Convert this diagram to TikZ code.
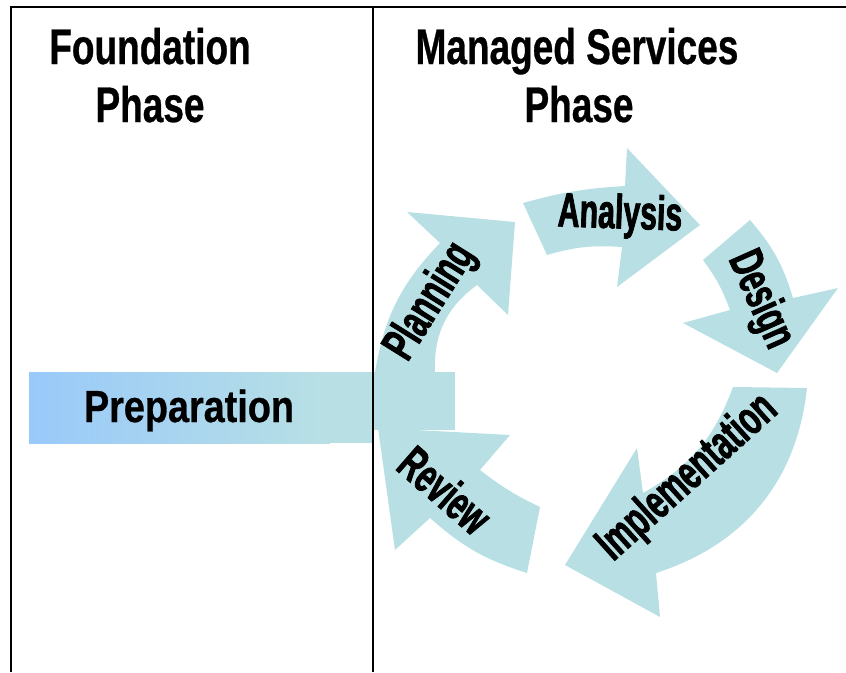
\documentclass[tikz,border=0pt]{standalone}
\usepackage{fontspec}
\setmainfont{Liberation Sans}
\newfontfamily\headfont[FakeStretch=0.74,BoldFeatures={FakeBold=0.6}]{Liberation Sans}
\newfontfamily\barfont[FakeStretch=0.84,BoldFeatures={FakeBold=0.6}]{Liberation Sans}
\newfontfamily\arcfont[FakeStretch=0.63,BoldFeatures={FakeBold=1.6}]{Liberation Sans}
\definecolor{cycleteal}{HTML}{B8E0E4}
\definecolor{prepblue}{HTML}{99C9FA}

\begin{document}
\begin{tikzpicture}[x=1pt,y=-1pt,
  head/.style={anchor=base,inner sep=0pt,font={\headfont\bfseries\fontsize{50}{60}\selectfont}},
  steplabel/.style={inner sep=0pt,font={\arcfont\bfseries\fontsize{48}{56}\selectfont}},
  cyclearrow/.style={fill=cycleteal}]

\def\leftx{11} \def\divx{373} \def\rightx{846}
\def\topy{7} \def\boty{672}
\def\barl{29} \def\barm{330} \def\barr{455}
\def\bart{372} \def\barb{443} \def\barc{430}

\useasboundingbox (0,0) rectangle (\rightx,\boty);

\shade [left color=prepblue,right color=cycleteal] (\barl,\bart) rectangle (\barm,\barb);
\fill [cycleteal] (\barm-1,\bart) rectangle (\divx,\barb);
\fill [cycleteal] (\divx-1,\bart) rectangle (\barr,\barc);

\fill [cyclearrow] (375,372) to[bend left=17] (440,243) -- (407,212) -- (515,222) -- (508,315) -- (477,285) to[bend right=28] (435,372) -- cycle;
\fill [cyclearrow] (523,203) to[bend left=6] (625,186) -- (627,148) -- (700,225) -- (617,287) -- (622,247) to[bend right=10] (547,255) -- cycle;
\fill [cyclearrow] (750,220) to[bend left=12] (793,298) -- (838,288) -- (777,373) -- (683,323) -- (730,310) to[bend right=8] (703,260) -- cycle;
\fill [cyclearrow] (733,387) -- (807,388) to[bend left=33] (656,573) -- (660,617) -- (565,565) -- (637,448) -- (643,493) to[bend right=20] cycle;
\fill [cyclearrow] (540,507) -- (527,573) to[bend left=12] (430,518) -- (395,550) -- (378,428) -- (510,435) -- (480,470) to[bend right=6] cycle;

\node [head] (foundTitle) at (150,64) {Foundation};
\node [head] (foundPhase) at (150,122) {Phase};
\node [head] (manTitle) at (577,64) {Managed Services};
\node [head] (manPhase) at (579,122) {Phase};

\node [anchor=base,inner sep=0pt,font={\barfont\bfseries\fontsize{45}{54}\selectfont}] (prep) at (189,422) {Preparation};

\node [steplabel,rotate=58] (planLbl) at (431,302) {Planning};
\node [steplabel,rotate=-2] (anaLbl) at (620,216) {Analysis};
\node [steplabel,rotate=-66] (desLbl) at (760,300) {Design};
\node [steplabel,rotate=42] (impLbl) at (688,478) {Implementation};
\node [steplabel,rotate=-41] (revLbl) at (445,490) {Review};

\draw [line width=1.5pt] (\leftx,\boty) -- (\leftx,\topy) -- (\rightx,\topy);
\draw [line width=1.5pt] (\divx,\topy) -- (\divx,\boty);
\end{tikzpicture}
\end{document}
